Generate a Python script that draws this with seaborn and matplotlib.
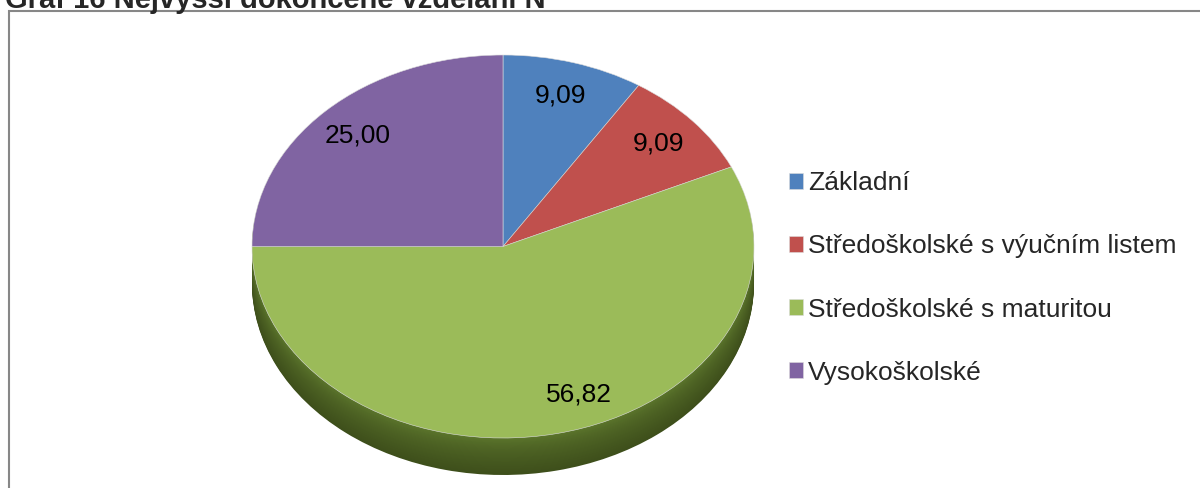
import numpy as np
import matplotlib.pyplot as plt
import matplotlib.colors as mcolors
from matplotlib.patches import Rectangle
import seaborn as sns

title = 'Graf 16 Nejvyšší dokončené vzdělání N'
categories = ['Základní', 'Středoškolské s výučním listem',
              'Středoškolské s maturitou', 'Vysokoškolské']
shares = [9.09, 9.09, 56.82, 25.00]
colors = ['#4F81BD', '#C0504D', '#9BBB59', '#8064A2']

sns.set_theme(style='white')
plt.rcParams['font.family'] = ['Liberation Sans', 'DejaVu Sans']

W, H = 1200, 488
fig = plt.figure(figsize=(W / 100, H / 100), dpi=100)

# pie: top face spans x 252..754, y 55..438 px, side goes down to 475 px
depth = 37 / 191.5
ax = fig.add_axes([252 / W, (H - 475) / H, 502 / W, 420 / H])

# 3D side, faked with a stack of darker pies
side_dark = np.array(mcolors.to_rgb('#3e4f1b'))
side_light = np.array(mcolors.to_rgb('#5f7a2e'))
n_layers = 40
for i in range(n_layers, 0, -1):
    t = (i / n_layers) ** 0.6
    shade = side_light * (1 - t) + side_dark * t
    ax.pie(shares, colors=[shade] * len(shares), startangle=90, counterclock=False,
           center=(0, -depth * i / n_layers), radius=1, wedgeprops=dict(linewidth=0))

wedges, texts, autotexts = ax.pie(
    shares, colors=colors, startangle=90, counterclock=False, radius=1,
    autopct=lambda p: f'{p:.2f}'.replace('.', ','), pctdistance=0.82,
    textprops=dict(fontsize=19, color='black'),
    wedgeprops=dict(linewidth=0.4, edgecolor='#dcdcdc'))

# the big slice's label sits a bit right of its mid-angle in the original
x, y = autotexts[2].get_position()
autotexts[2].set_position((x + 0.13, y + 0.03))

ax.set_aspect('auto')
ax.set_xlim(-1, 1)
ax.set_ylim(-1 - depth, 1)
ax.axis('off')

ax.legend(wedges, categories, loc='center left',
          bbox_to_anchor=(789 / W, (H - 278) / H), bbox_transform=fig.transFigure,
          frameon=False, fontsize=19, handlelength=0.53, handleheight=0.53,
          handletextpad=0.2, labelspacing=1.48, borderpad=0, borderaxespad=0)

# chart frame (runs off the right and bottom edges)
fig.add_artist(Rectangle((8.5 / W, -0.1), 1.2, (H - 11.5) / H + 0.1,
                         transform=fig.transFigure, fill=False,
                         edgecolor='#878787', linewidth=1.5))

# title, cut off by the top edge as in the original
fig.text(5 / W, (H - 8) / H, title, fontsize=21, fontweight='bold',
         va='baseline', ha='left')

fig.savefig('out.png', dpi=100)
